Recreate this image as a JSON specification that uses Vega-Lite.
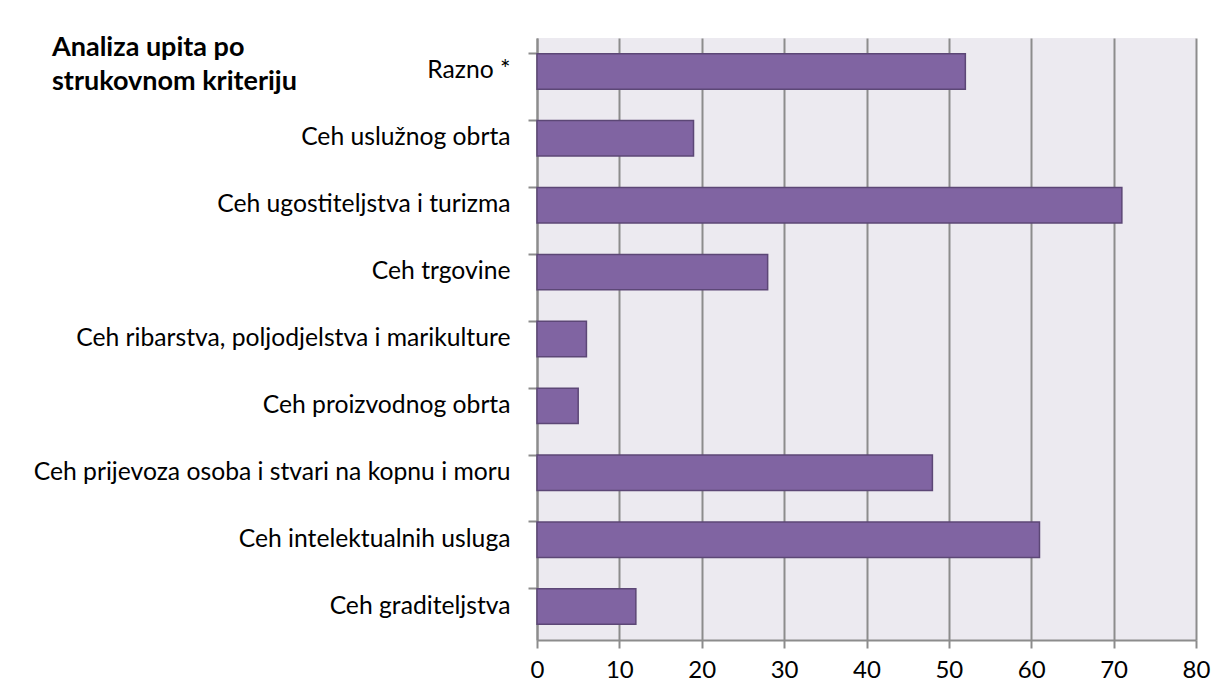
{
  "$schema": "https://vega.github.io/schema/vega-lite/v6.json",
  "autosize": "none",
  "width": 659,
  "height": 602,
  "padding": {"left": 537, "top": 38, "right": 29, "bottom": 60},
  "background": "white",
  "title": {
    "text": ["Analiza upita po", "strukovnom kriteriju"],
    "anchor": "start",
    "frame": "group",
    "orient": "top",
    "baseline": "top",
    "offset": 0,
    "dx": -485,
    "dy": 58,
    "font": "Lato",
    "fontSize": 27,
    "fontWeight": "bold",
    "color": "#000000",
    "lineHeight": 34
  },
  "data": {
    "values": [
      {"kategorija": "Razno *", "broj": 52},
      {"kategorija": "Ceh uslužnog obrta", "broj": 19},
      {"kategorija": "Ceh ugostiteljstva i turizma", "broj": 71},
      {"kategorija": "Ceh trgovine", "broj": 28},
      {"kategorija": "Ceh ribarstva, poljodjelstva i marikulture", "broj": 6},
      {"kategorija": "Ceh proizvodnog obrta", "broj": 5},
      {"kategorija": "Ceh prijevoza osoba i stvari na kopnu i moru", "broj": 48},
      {"kategorija": "Ceh  intelektualnih usluga", "broj": 61},
      {"kategorija": "Ceh graditeljstva", "broj": 12}
    ]
  },
  "mark": {"type": "bar", "fill": "#8064A2", "stroke": "#5C4776", "strokeWidth": 1.5},
  "encoding": {
    "y": {
      "field": "kategorija",
      "type": "nominal",
      "sort": null,
      "scale": {"paddingInner": 0.47, "paddingOuter": 0.235},
      "axis": {
        "title": null,
        "bandPosition": 0,
        "domainColor": "#8C8C8C",
        "domainWidth": 2,
        "tickColor": "#8C8C8C",
        "tickWidth": 2,
        "tickSize": 9,
        "labelPadding": 18,
        "labelFont": "Lato",
        "labelFontSize": 24.7,
        "labelColor": "#000000",
        "labelLimit": 600
      }
    },
    "x": {
      "field": "broj",
      "type": "quantitative",
      "scale": {"domain": [0, 80], "nice": false},
      "axis": {
        "title": null,
        "values": [0, 10, 20, 30, 40, 50, 60, 70, 80],
        "grid": true,
        "gridColor": "#8C8C8C",
        "gridWidth": 2,
        "domainColor": "#8C8C8C",
        "domainWidth": 2,
        "tickColor": "#8C8C8C",
        "tickWidth": 2,
        "tickSize": 8,
        "labelPadding": 10,
        "labelFont": "Lato",
        "labelFontSize": 24,
        "labelColor": "#000000",
        "labelFlush": false
      }
    }
  },
  "config": {
    "view": {"fill": "#ECEAF0", "stroke": null}
  }
}
